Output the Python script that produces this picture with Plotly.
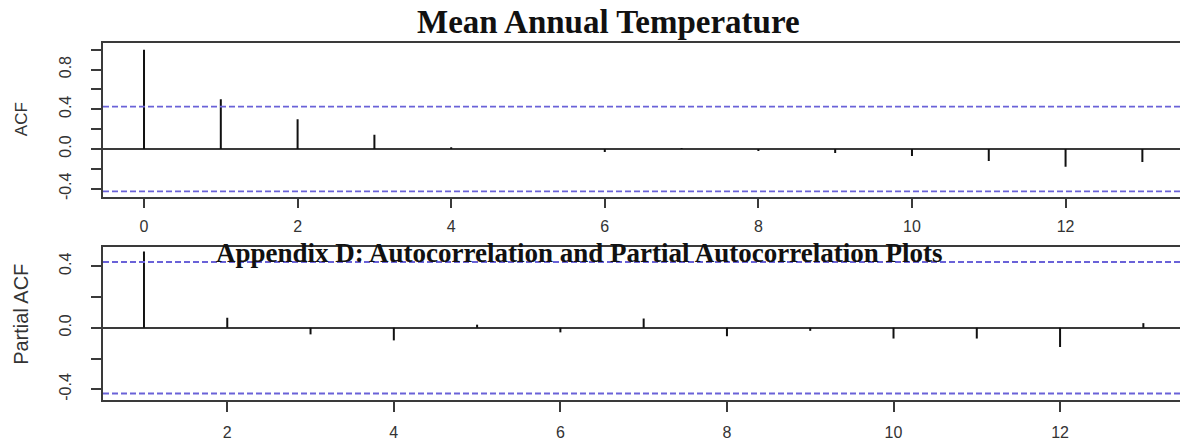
import plotly.graph_objects as go

# ---- data ----
acf_lags = [0, 1, 2, 3, 4, 5, 6, 7, 8, 9, 10, 11, 12, 13]
acf_vals = [1.0, 0.50, 0.30, 0.143, 0.017, 0.0, -0.03, 0.01, -0.02, -0.04, -0.07, -0.12, -0.18, -0.13]
pacf_lags = [1, 2, 3, 4, 5, 6, 7, 8, 9, 10, 11, 12, 13]
pacf_vals = [0.495, 0.065, -0.043, -0.082, 0.02, -0.03, 0.06, -0.055, -0.02, -0.07, -0.07, -0.125, 0.03]
ci = 0.427
acf_yticks = [-0.4, 0.0, 0.4, 0.8]
acf_ytext = ["-0.4", "0.0", "0.4", "0.8"]
pacf_yticks = [-0.4, 0.0, 0.4]
pacf_ytext = ["-0.4", "0.0", "0.4"]
main_title = "Mean Annual Temperature"
sub_title = "Appendix D: Autocorrelation and Partial Autocorrelation Plots"

W, H = 1180, 442
AX = "#3a3a3a"
DASH = "#6a62d8"
SANS = "Liberation Sans, Arial, sans-serif"
SERIF = "Liberation Serif, Times New Roman, serif"
XTICKFONT = dict(family=SANS, size=16, color="#333333")
YTICKFONT = dict(family=SANS, size=16, color="#333333")


def stems(lags, vals):
    xs, ys = [], []
    for l, v in zip(lags, vals):
        xs += [l, l, None]
        ys += [0, v, None]
    return xs, ys


fig = go.Figure()

x1, y1 = stems(acf_lags, acf_vals)
fig.add_trace(go.Scatter(x=x1, y=y1, mode="lines", line=dict(color="#111111", width=2),
                         xaxis="x", yaxis="y", showlegend=False, hoverinfo="skip"))
x2, y2 = stems(pacf_lags, pacf_vals)
fig.add_trace(go.Scatter(x=x2, y=y2, mode="lines", line=dict(color="#111111", width=2),
                         xaxis="x2", yaxis="y2", showlegend=False, hoverinfo="skip"))

# confidence bands
for xr, yr in (("x", "y"), ("x2", "y2")):
    for s in (ci, -ci):
        fig.add_shape(type="line", xref=f"{xr} domain", yref=yr, x0=0, x1=1, y0=s, y1=s,
                      line=dict(color=DASH, width=1.8, dash="6px,3px"), layer="above")

top_dom = [1 - 198 / H, 1 - 43 / H]
bot_dom = [1 - 402.7 / H, 1 - 248.3 / H]
xdom = [103 / W, 1.0]

common_x = dict(showline=True, linecolor=AX, linewidth=1.5, mirror=True, ticks="outside",
                ticklen=10, tickwidth=1.5, tickcolor=AX, showgrid=False, zeroline=False,
                tickfont=XTICKFONT, dtick=2)
common_y = dict(showline=True, linecolor=AX, linewidth=1.5, mirror=False, ticks="outside",
                ticklen=10, tickwidth=1.5, tickcolor=AX, showgrid=False, zeroline=True,
                zerolinecolor=AX, zerolinewidth=1.5, tickfont=YTICKFONT, tickangle=-90,
                tickmode="array", ticklabelstandoff=14,
                minor=dict(dtick=0.2, tick0=0, ticks="outside", ticklen=10, tickwidth=1.5,
                           tickcolor=AX, showgrid=False))

fig.update_layout(
    width=W, height=H, margin=dict(l=0, r=0, t=0, b=0),
    paper_bgcolor="white", plot_bgcolor="white",
    xaxis=dict(domain=xdom, anchor="y", range=[-0.534, 13.49], tick0=0,
               ticklabelstandoff=4, **common_x),
    yaxis=dict(domain=top_dom, anchor="x", range=[-0.48, 1.07],
               tickvals=acf_yticks, ticktext=acf_ytext, **common_y),
    xaxis2=dict(domain=xdom, anchor="y2", range=[0.508, 13.44], tick0=0,
                ticklabelstandoff=7, **common_x),
    yaxis2=dict(domain=bot_dom, anchor="x2", range=[-0.469, 0.527],
                tickvals=pacf_yticks, ticktext=pacf_ytext, **common_y),
)

fig.add_annotation(text=f"<b>{main_title}</b>", xref="paper", yref="paper",
                   x=608 / W, y=1 - 22 / H, xanchor="center", yanchor="middle", showarrow=False,
                   font=dict(family=SERIF, size=33, color="#111111"))
fig.add_annotation(text=f"<b>{sub_title}</b>", xref="paper", yref="paper",
                   x=579 / W, y=1 - 255 / H, xanchor="center", yanchor="middle", showarrow=False,
                   font=dict(family=SERIF, size=27, color="#111111"))
fig.add_annotation(text="ACF", xref="paper", yref="paper", x=21 / W, y=1 - 120 / H,
                   xanchor="center", yanchor="middle", showarrow=False, textangle=-90,
                   font=dict(family=SANS, size=17, color="#333333"))
fig.add_annotation(text="Partial ACF", xref="paper", yref="paper", x=21 / W, y=1 - 317 / H,
                   xanchor="center", yanchor="middle", showarrow=False, textangle=-90,
                   font=dict(family=SANS, size=20, color="#333333"))

fig.write_html("out.html")
